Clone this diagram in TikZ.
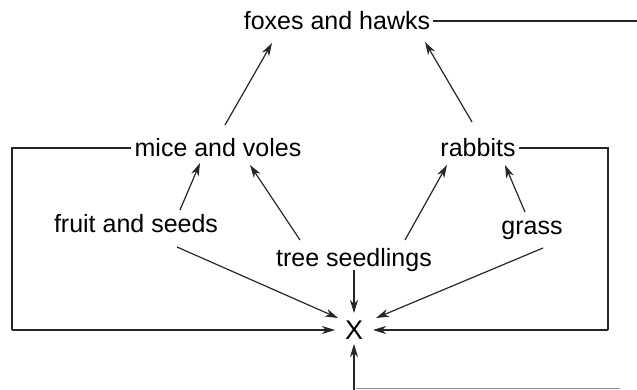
\documentclass[tikz,border=0pt]{standalone}
\usepackage{fontspec}
\setmainfont{Liberation Sans}
\usetikzlibrary{arrows.meta}
\begin{document}
\begin{tikzpicture}[x=1pt,y=-1pt,
  lbl/.style={inner sep=0pt,font=\fontsize{25}{28}\selectfont,text height=18pt,text depth=0pt},
  ln/.style={line width=1.2pt,black!85},
  arr/.style={ln,-{Stealth[length=13pt,width=8pt,inset=4pt]}}]
\useasboundingbox (0,0) rectangle (637,390);
\node[lbl] (foxes) at (337,21) {foxes and hawks};
\node[lbl] (mice) at (218,148) {mice and voles};
\node[lbl] (rabbits) at (478,148) {rabbits};
\node[lbl] (fruit) at (136,224) {fruit and seeds};
\node[lbl] (tree) at (354,257) {tree seedlings};
\node[lbl] (grass) at (532,225) {grass};
\node[lbl,font=\fontsize{27}{30}\selectfont] (x) at (354,330) {X};
\coordinate (foxend) at (637,21);
\coordinate (lc1) at (12,148);
\coordinate (lc2) at (12,330);
\coordinate (rc1) at (608,148);
\coordinate (rc2) at (608,330);
\coordinate (bot) at (354,392);
\coordinate (botr) at (620,388);
% top line
\draw[ln] ([xshift=3pt]foxes.east) -- (foxend);
% arrows to foxes
\draw[arr] ([shift={(7,-23)}]mice.center) -- ([shift={(-65,22)}]foxes.center);
\draw[arr] ([shift={(-6,-26)}]rabbits.center) -- ([shift={(88,21)}]foxes.center);
% arrows to mice and rabbits
\draw[arr] ([shift={(44,-14)}]fruit.center) -- ([shift={(-18,15)}]mice.center);
\draw[arr] ([shift={(-54,-17)}]tree.center) -- ([shift={(32,17)}]mice.center);
\draw[arr] ([shift={(51,-17)}]tree.center) -- ([shift={(-31,17)}]rabbits.center);
\draw[arr] ([shift={(-7,-13)}]grass.center) -- ([shift={(27,17)}]rabbits.center) ;
% arrows to X
\draw[arr] ([shift={(41,23)}]fruit.center) -- ([shift={(-16,-12)}]x.center);
\draw[arr] ([shift={(0,13)}]tree.center) -- ([shift={(0,-17)}]x.center);
\draw[arr] ([shift={(11,23)}]grass.center) -- ([shift={(22,-12)}]x.center);
% side loops
\draw[ln] ([xshift=-3pt]mice.west) -- (lc1) -- (lc2);
\draw[arr] (lc2) -- ([xshift=-19pt]x.center);
\draw[ln] ([xshift=3pt]rabbits.east) -- (rc1) -- (rc2);
\draw[arr] (rc2) -- ([xshift=19pt]x.center);
% bottom
\draw[arr] (bot) -- ([shift={(0,14)}]x.center);
\draw[line width=0.8pt,black!45] ([xshift=2pt]bot |- botr) -- (botr);
\end{tikzpicture}
\end{document}
